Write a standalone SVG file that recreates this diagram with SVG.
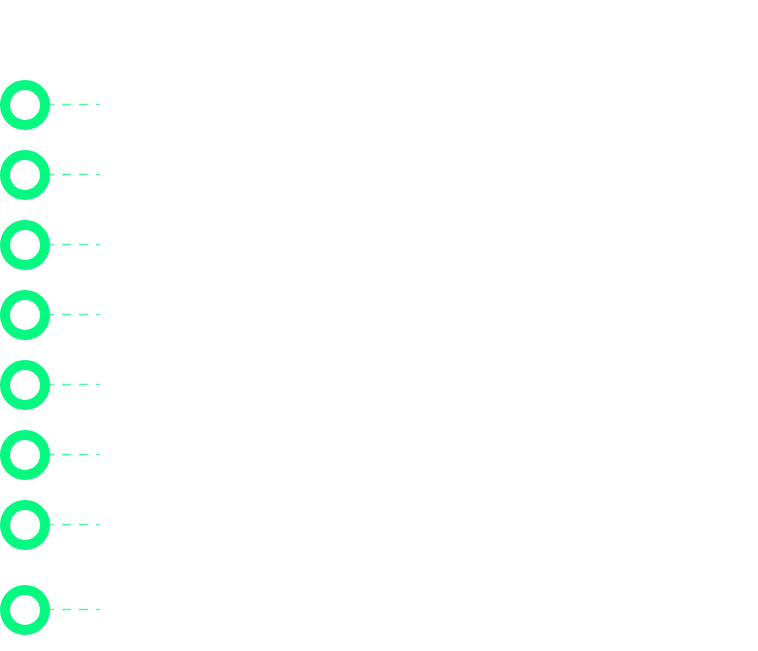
<svg xmlns="http://www.w3.org/2000/svg" width="758" height="651" viewBox="0 0 758 651">
<style>
.node{fill:none;stroke:#05f880;stroke-width:10}
.link{stroke:#5cf5a8;stroke-width:1.6;stroke-dasharray:9 8;fill:none}
</style>
<rect width="758" height="651" fill="#ffffff"/>
<g id="connectors">
<line class="link" x1="45" y1="104.5" x2="100" y2="104.5"/>
<line class="link" x1="45" y1="174.5" x2="100" y2="174.5"/>
<line class="link" x1="45" y1="244.5" x2="100" y2="244.5"/>
<line class="link" x1="45" y1="314.5" x2="100" y2="314.5"/>
<line class="link" x1="45" y1="384.5" x2="100" y2="384.5"/>
<line class="link" x1="45" y1="454.5" x2="100" y2="454.5"/>
<line class="link" x1="45" y1="524.5" x2="100" y2="524.5"/>
<line class="link" x1="45" y1="609.5" x2="100" y2="609.5"/>
</g>
<g id="node1"><circle class="node" cx="25" cy="105" r="20"/></g>
<g id="node2"><circle class="node" cx="25" cy="175" r="20"/></g>
<g id="node3"><circle class="node" cx="25" cy="245" r="20"/></g>
<g id="node4"><circle class="node" cx="25" cy="315" r="20"/></g>
<g id="node5"><circle class="node" cx="25" cy="385" r="20"/></g>
<g id="node6"><circle class="node" cx="25" cy="455" r="20"/></g>
<g id="node7"><circle class="node" cx="25" cy="525" r="20"/></g>
<g id="node8"><circle class="node" cx="25" cy="610" r="20"/></g>
</svg>
